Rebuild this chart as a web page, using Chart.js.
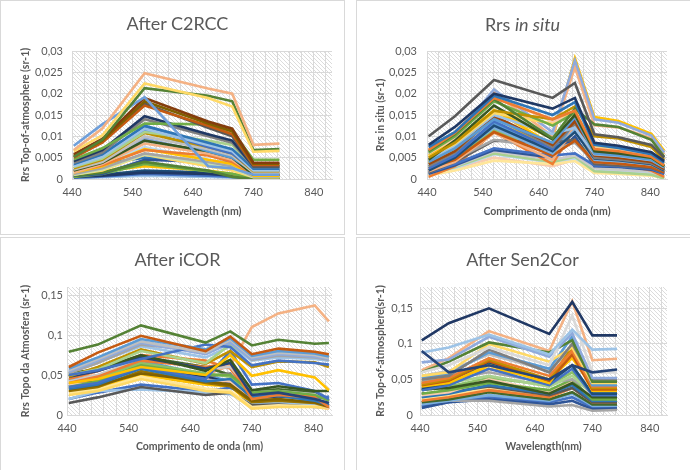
<!DOCTYPE html>
<html>
<head>
<meta charset="utf-8">
<script src="https://cdn.jsdelivr.net/npm/chart.js@4.4.1/dist/chart.umd.min.js"></script>
<style>
  body { margin: 0; background: #fff; width: 690px; height: 470px; overflow: hidden; position: relative; font-family: "Lato", sans-serif; }
  .frame { position: absolute; border: 1px solid #d9d9d9; box-sizing: border-box; }
  .box { position: absolute; }
  .title { position: absolute; text-align: center; color: #595959; font-size: 18px; line-height: 22px; font-family: "Lato", sans-serif; }
</style>
</head>
<body>
<div class="frame" style="left:0;top:0;width:345px;height:235px"></div>
<div class="frame" style="left:356px;top:0;width:340px;height:235px"></div>
<div class="frame" style="left:0;top:237px;width:345px;height:240px"></div>
<div class="frame" style="left:356px;top:237px;width:340px;height:240px"></div>

<div class="box" style="left:0;top:0"><canvas id="c2rcc" width="355" height="235"></canvas></div>
<div class="box" style="left:355px;top:0"><canvas id="insitu" width="335" height="235"></canvas></div>
<div class="box" style="left:0;top:235px"><canvas id="icor" width="355" height="235"></canvas></div>
<div class="box" style="left:355px;top:235px"><canvas id="sen2cor" width="335" height="235"></canvas></div>

<div class="title" style="left:0;top:12px;width:355px">After C2RCC</div>
<div class="title" style="left:355px;top:13px;width:335px">Rrs <i>in situ</i></div>
<div class="title" style="left:0;top:248px;width:355px">After iCOR</div>
<div class="title" style="left:355px;top:248px;width:335px">After Sen2Cor</div>

<script>
// band centres (nm)
const bands7 = [443, 490, 560, 665, 705, 740, 783];
const bands9 = [443, 490, 560, 665, 705, 740, 783, 842, 865];

const xLabels = [440, 540, 640, 740, 840];

// After C2RCC
const c2rccSeries = [
  [0.0068, 0.0118, 0.0248, 0.0212, 0.0200, 0.0080, 0.0083],
  [0.0065, 0.0102, 0.0224, 0.0190, 0.0170, 0.0064, 0.0066],
  [0.0052, 0.0092, 0.0213, 0.0195, 0.0182, 0.0068, 0.0070],
  [0.0078, 0.0128, 0.0192, 0.0030, 0.0025, 0.0010, 0.0010],
  [0.0058, 0.0094, 0.0190, 0.0135, 0.0118, 0.0038, 0.0038],
  [0.0055, 0.0090, 0.0182, 0.0130, 0.0112, 0.0036, 0.0036],
  [0.0050, 0.0085, 0.0172, 0.0125, 0.0105, 0.0033, 0.0033],
  [0.0052, 0.0087, 0.0177, 0.0120, 0.0100, 0.0030, 0.0030],
  [0.0046, 0.0072, 0.0130, 0.0128, 0.0112, 0.0045, 0.0045],
  [0.0042, 0.0068, 0.0147, 0.0105, 0.0090, 0.0030, 0.0030],
  [0.0038, 0.0062, 0.0140, 0.0100, 0.0085, 0.0028, 0.0028],
  [0.0035, 0.0058, 0.0125, 0.0085, 0.0070, 0.0024, 0.0024],
  [0.0030, 0.0052, 0.0118, 0.0080, 0.0065, 0.0020, 0.0020],
  [0.0032, 0.0055, 0.0122, 0.0075, 0.0060, 0.0022, 0.0022],
  [0.0028, 0.0048, 0.0110, 0.0090, 0.0080, 0.0025, 0.0025],
  [0.0025, 0.0045, 0.0108, 0.0075, 0.0060, 0.0018, 0.0018],
  [0.0022, 0.0040, 0.0100, 0.0070, 0.0055, 0.0015, 0.0015],
  [0.0030, 0.0050, 0.0115, 0.0065, 0.0050, 0.0018, 0.0018],
  [0.0020, 0.0038, 0.0090, 0.0065, 0.0050, 0.0010, 0.0010],
  [0.0015, 0.0035, 0.0083, 0.0060, 0.0045, 0.0012, 0.0012],
  [0.0018, 0.0032, 0.0068, 0.0055, 0.0040, 0.0010, 0.0010],
  [0.0015, 0.0030, 0.0070, 0.0045, 0.0035, 0.0008, 0.0008],
  [0.0020, 0.0035, 0.0075, 0.0045, 0.0035, 0.0008, 0.0008],
  [0.0012, 0.0025, 0.0060, 0.0040, 0.0030, 0.0006, 0.0006],
  [0.0010, 0.0022, 0.0058, 0.0035, 0.0025, 0.0005, 0.0005],
  [0.0010, 0.0020, 0.0057, 0.0030, 0.0020, 0.0004, 0.0004],
  [0.0008, 0.0015, 0.0040, 0.0020, 0.0005, 0.0000, 0.0000],
  [0.0008, 0.0012, 0.0045, 0.0040, 0.0040, 0.0008, 0.0008],
  [0.0005, 0.0012, 0.0035, 0.0018, 0.0012, 0.0003, 0.0003],
  [0.0008, 0.0018, 0.0030, 0.0020, 0.0012, 0.0002, 0.0002],
  [0.0005, 0.0008, 0.0015, 0.0012, 0.0008, 0.0001, 0.0001],
  [0.0003, 0.0006, 0.0012, 0.0008, 0.0005, 0.0000, 0.0000],
  [0.0004, 0.0010, 0.0020, 0.0015, 0.0010, 0.0002, 0.0002],
  [0.0002, 0.0004, 0.0008, 0.0005, 0.0003, 0.0000, 0.0000],
  [0.0025, 0.0042, 0.0095, 0.0060, 0.0045, 0.0015, 0.0015],
  [0.0018, 0.0035, 0.0050, 0.0040, 0.0030, 0.0020, 0.0020],
];
const c2rccColors = [
  "#F4B183", "#FFD966", "#548235", "#6F9FDA", "#843C0C", "#7F6000", "#C55A11", "#595959",
  "#70AD47", "#1F3864", "#7F7F7F", "#2E75B6", "#9DC3E6", "#4472C4", "#A9D18E", "#BF9000",
  "#BFBFBF", "#5B9BD5", "#385723", "#F4B183", "#ED7D31", "#FFC000", "#BDD7EE", "#A5A5A5",
  "#C5E0B4", "#FFD966", "#548235", "#2F5597", "#70AD47", "#FFC000", "#203864", "#4472C4",
  "#1F4E79", "#9DC3E6", "#8FAADC", "#2E75B6",
];

// Rrs in situ
const insituSeries = [
  [0.0100, 0.0147, 0.0232, 0.0190, 0.0225, 0.0105, 0.0098, 0.0080, 0.0050],
  [0.0080, 0.0122, 0.0200, 0.0165, 0.0190, 0.0085, 0.0078, 0.0063, 0.0042],
  [0.0075, 0.0110, 0.0195, 0.0150, 0.0180, 0.0080, 0.0073, 0.0058, 0.0038],
  [0.0068, 0.0108, 0.0190, 0.0140, 0.0160, 0.0070, 0.0065, 0.0052, 0.0032],
  [0.0065, 0.0105, 0.0187, 0.0095, 0.0165, 0.0128, 0.0122, 0.0092, 0.0052],
  [0.0050, 0.0085, 0.0160, 0.0140, 0.0170, 0.0100, 0.0095, 0.0075, 0.0045],
  [0.0045, 0.0090, 0.0172, 0.0093, 0.0150, 0.0065, 0.0060, 0.0050, 0.0030],
  [0.0062, 0.0100, 0.0182, 0.0125, 0.0155, 0.0068, 0.0062, 0.0050, 0.0030],
  [0.0060, 0.0095, 0.0195, 0.0135, 0.0150, 0.0072, 0.0066, 0.0054, 0.0034],
  [0.0052, 0.0082, 0.0155, 0.0130, 0.0158, 0.0075, 0.0070, 0.0056, 0.0036],
  [0.0040, 0.0072, 0.0140, 0.0085, 0.0145, 0.0060, 0.0055, 0.0045, 0.0028],
  [0.0045, 0.0078, 0.0150, 0.0105, 0.0120, 0.0058, 0.0054, 0.0044, 0.0027],
  [0.0035, 0.0065, 0.0148, 0.0080, 0.0135, 0.0055, 0.0050, 0.0040, 0.0024],
  [0.0030, 0.0062, 0.0145, 0.0075, 0.0130, 0.0050, 0.0046, 0.0037, 0.0022],
  [0.0025, 0.0055, 0.0135, 0.0070, 0.0140, 0.0062, 0.0057, 0.0046, 0.0026],
  [0.0038, 0.0070, 0.0162, 0.0080, 0.0152, 0.0070, 0.0065, 0.0050, 0.0030],
  [0.0020, 0.0050, 0.0125, 0.0065, 0.0110, 0.0048, 0.0044, 0.0035, 0.0020],
  [0.0030, 0.0055, 0.0120, 0.0060, 0.0115, 0.0045, 0.0042, 0.0034, 0.0020],
  [0.0025, 0.0045, 0.0110, 0.0055, 0.0090, 0.0040, 0.0036, 0.0028, 0.0016],
  [0.0018, 0.0040, 0.0108, 0.0045, 0.0125, 0.0042, 0.0038, 0.0030, 0.0018],
  [0.0022, 0.0046, 0.0092, 0.0070, 0.0085, 0.0040, 0.0036, 0.0030, 0.0018],
  [0.0015, 0.0040, 0.0090, 0.0085, 0.0092, 0.0035, 0.0032, 0.0026, 0.0015],
  [0.0015, 0.0035, 0.0072, 0.0055, 0.0060, 0.0032, 0.0030, 0.0024, 0.0013],
  [0.0012, 0.0032, 0.0068, 0.0050, 0.0100, 0.0030, 0.0028, 0.0022, 0.0012],
  [0.0005, 0.0030, 0.0110, 0.0035, 0.0120, 0.0040, 0.0035, 0.0020, 0.0005],
  [0.0010, 0.0030, 0.0065, 0.0045, 0.0055, 0.0025, 0.0022, 0.0017, 0.0008],
  [0.0010, 0.0028, 0.0060, 0.0040, 0.0052, 0.0018, 0.0015, 0.0010, 0.0001],
  [0.0008, 0.0020, 0.0043, 0.0035, 0.0042, 0.0014, 0.0012, 0.0008, 0.0002],
  [0.0012, 0.0025, 0.0058, 0.0038, 0.0048, 0.0020, 0.0018, 0.0013, 0.0005],
  [0.0008, 0.0025, 0.0050, 0.0030, 0.0045, 0.0018, 0.0016, 0.0012, 0.0003],
  [0.0028, 0.0050, 0.0115, 0.0060, 0.0095, 0.0042, 0.0038, 0.0030, 0.0017],
  [0.0035, 0.0060, 0.0130, 0.0068, 0.0125, 0.0052, 0.0048, 0.0038, 0.0022],
  [0.0042, 0.0075, 0.0145, 0.0070, 0.0120, 0.0055, 0.0050, 0.0040, 0.0024],
  [0.0060, 0.0100, 0.0210, 0.0110, 0.0278, 0.0140, 0.0132, 0.0102, 0.0062],
  [0.0070, 0.0110, 0.0203, 0.0100, 0.0262, 0.0126, 0.0121, 0.0096, 0.0058],
  [0.0055, 0.0090, 0.0160, 0.0095, 0.0283, 0.0145, 0.0136, 0.0106, 0.0066],
];
const insituColors = [
  "#595959", "#1F3864", "#2E75B6", "#ED7D31", "#548235", "#BF9000", "#385723", "#70AD47",
  "#F8CBAD", "#FFD966", "#5B9BD5", "#9DC3E6", "#9E480E", "#7F7F7F", "#4472C4", "#FFC000",
  "#1F4E79", "#7CAFDD", "#C55A11", "#F4B183", "#A5A5A5", "#636363", "#4472C4", "#2F5597",
  "#ED7D31", "#C9C9C9", "#A9D18E", "#FFE699", "#BDD7EE", "#F8CBAD", "#8CC168", "#5B9BD5",
  "#FFC000", "#8FAADC", "#F4B183", "#FFC000",
];

// After iCOR
const icorSeries = [
  [0.0790, 0.0880, 0.1120, 0.0905, 0.1045, 0.0870, 0.0940, 0.0890, 0.0900],
  [0.0600, 0.0780, 0.0990, 0.0800, 0.0980, 0.0760, 0.0830, 0.0790, 0.0760],
  [0.0580, 0.0720, 0.0950, 0.0820, 0.0960, 0.0740, 0.0800, 0.0770, 0.0730],
  [0.0560, 0.0700, 0.0920, 0.0780, 0.0940, 0.0720, 0.0780, 0.0750, 0.0710],
  [0.0500, 0.0560, 0.0700, 0.0880, 0.0850, 0.0620, 0.0680, 0.0650, 0.0630],
  [0.0540, 0.0680, 0.0900, 0.0760, 0.0900, 0.0700, 0.0760, 0.0730, 0.0700],
  [0.0520, 0.0650, 0.0880, 0.0800, 0.0920, 0.0690, 0.0740, 0.0720, 0.0690],
  [0.0500, 0.0570, 0.0800, 0.0650, 0.0880, 0.0710, 0.0800, 0.0760, 0.0720],
  [0.0480, 0.0600, 0.0820, 0.0640, 0.0800, 0.0600, 0.0670, 0.0660, 0.0600],
  [0.0550, 0.0660, 0.0860, 0.0720, 0.0860, 0.0680, 0.0720, 0.0700, 0.0680],
  [0.0400, 0.0450, 0.0600, 0.0500, 0.0750, 0.0490, 0.0560, 0.0470, 0.0310],
  [0.0520, 0.0570, 0.0750, 0.0550, 0.0690, 0.0310, 0.0360, 0.0300, 0.0300],
  [0.0480, 0.0550, 0.0720, 0.0580, 0.0650, 0.0250, 0.0280, 0.0200, 0.0150],
  [0.0350, 0.0400, 0.0600, 0.0450, 0.0800, 0.0380, 0.0400, 0.0300, 0.0200],
  [0.0400, 0.0480, 0.0680, 0.0600, 0.0650, 0.0200, 0.0250, 0.0220, 0.0100],
  [0.0350, 0.0420, 0.0620, 0.0500, 0.0500, 0.0280, 0.0300, 0.0250, 0.0180],
  [0.0330, 0.0380, 0.0580, 0.0420, 0.0450, 0.0220, 0.0240, 0.0180, 0.0120],
  [0.0320, 0.0370, 0.0520, 0.0420, 0.0380, 0.0180, 0.0200, 0.0160, 0.0110],
  [0.0300, 0.0350, 0.0550, 0.0400, 0.0360, 0.0160, 0.0180, 0.0150, 0.0100],
  [0.0380, 0.0400, 0.0580, 0.0440, 0.0420, 0.0180, 0.0200, 0.0180, 0.0080],
  [0.0250, 0.0300, 0.0450, 0.0300, 0.0280, 0.0080, 0.0100, 0.0100, 0.0080],
  [0.0280, 0.0320, 0.0480, 0.0330, 0.0300, 0.0100, 0.0120, 0.0110, 0.0090],
  [0.0150, 0.0220, 0.0350, 0.0250, 0.0280, 0.0120, 0.0130, 0.0100, 0.0100],
  [0.0200, 0.0300, 0.0320, 0.0280, 0.0260, 0.0140, 0.0150, 0.0120, 0.0140],
  [0.0360, 0.0420, 0.0600, 0.0480, 0.0400, 0.0200, 0.0220, 0.0190, 0.0140],
  [0.0200, 0.0280, 0.0380, 0.0300, 0.0340, 0.0230, 0.0250, 0.0200, 0.0230],
  [0.0300, 0.0330, 0.0500, 0.0380, 0.0360, 0.0130, 0.0140, 0.0120, 0.0100],
  [0.0420, 0.0500, 0.0700, 0.0580, 0.0600, 0.0280, 0.0300, 0.0260, 0.0160],
  [0.0420, 0.0460, 0.0650, 0.0520, 0.0480, 0.0220, 0.0240, 0.0200, 0.0140],
  [0.0450, 0.0550, 0.0750, 0.0680, 0.0580, 0.0230, 0.0260, 0.0240, 0.0080],
  [0.0380, 0.0450, 0.0620, 0.0480, 0.0520, 0.0160, 0.0180, 0.0150, 0.0120],
  [0.0430, 0.0480, 0.0680, 0.0500, 0.0420, 0.0150, 0.0170, 0.0150, 0.0130],
  [0.0500, 0.0560, 0.0730, 0.0600, 0.0500, 0.0300, 0.0320, 0.0280, 0.0180],
  [0.0450, 0.0500, 0.0650, 0.0500, 0.0620, 0.1100, 0.1270, 0.1370, 0.1170],
];
const icorColors = [
  "#548235", "#C55A11", "#5B9BD5", "#BFBFBF", "#4472C4", "#8FAADC", "#A5A5A5", "#A9D18E",
  "#BF9000", "#9DC3E6", "#FFC000", "#385723", "#264478", "#4472C4", "#ED7D31", "#70AD47",
  "#2E75B6", "#7F6000", "#997300", "#F8CBAD", "#FFD966", "#FFE699", "#595959", "#9DC3E6",
  "#1F3864", "#4472C4", "#FFC000", "#C9C9C9", "#8CC168", "#ED7D31", "#7F7F7F", "#5B9BD5",
  "#43682B", "#F4B183",
];

// After Sen2Cor
const sen2corSeries = [
  [0.1050, 0.1290, 0.1500, 0.1140, 0.1590, 0.1120, 0.1120],
  [0.0900, 0.0600, 0.0700, 0.0500, 0.0700, 0.0600, 0.0640],
  [0.0880, 0.0950, 0.1130, 0.0850, 0.1200, 0.0920, 0.0930],
  [0.0600, 0.0700, 0.0950, 0.0700, 0.1400, 0.0600, 0.0600],
  [0.0740, 0.0780, 0.1100, 0.0820, 0.1150, 0.0520, 0.0520],
  [0.0600, 0.0750, 0.1020, 0.0880, 0.1050, 0.0470, 0.0470],
  [0.0500, 0.0550, 0.0920, 0.0600, 0.1000, 0.0500, 0.0500],
  [0.0550, 0.0600, 0.1000, 0.0750, 0.0950, 0.0450, 0.0450],
  [0.0520, 0.0580, 0.0880, 0.0650, 0.1100, 0.0420, 0.0420],
  [0.0450, 0.0520, 0.0800, 0.0550, 0.0900, 0.0400, 0.0400],
  [0.0430, 0.0500, 0.0780, 0.0500, 0.0950, 0.0380, 0.0380],
  [0.0420, 0.0480, 0.0760, 0.0480, 0.0850, 0.0360, 0.0360],
  [0.0400, 0.0450, 0.0700, 0.0450, 0.0880, 0.0340, 0.0340],
  [0.0380, 0.0450, 0.0720, 0.0460, 0.0700, 0.0300, 0.0300],
  [0.0350, 0.0420, 0.0650, 0.0420, 0.0650, 0.0280, 0.0280],
  [0.0400, 0.0450, 0.0550, 0.0400, 0.0550, 0.0300, 0.0300],
  [0.0480, 0.0500, 0.0600, 0.0450, 0.0500, 0.0330, 0.0330],
  [0.0360, 0.0380, 0.0480, 0.0300, 0.0450, 0.0250, 0.0250],
  [0.0300, 0.0350, 0.0450, 0.0350, 0.0500, 0.0220, 0.0220],
  [0.0280, 0.0320, 0.0500, 0.0320, 0.0480, 0.0240, 0.0240],
  [0.0250, 0.0300, 0.0420, 0.0300, 0.0420, 0.0200, 0.0200],
  [0.0300, 0.0320, 0.0400, 0.0280, 0.0380, 0.0180, 0.0180],
  [0.0200, 0.0250, 0.0350, 0.0250, 0.0380, 0.0180, 0.0180],
  [0.0220, 0.0270, 0.0380, 0.0270, 0.0400, 0.0200, 0.0200],
  [0.0180, 0.0220, 0.0320, 0.0220, 0.0320, 0.0150, 0.0150],
  [0.0150, 0.0200, 0.0280, 0.0200, 0.0300, 0.0130, 0.0130],
  [0.0180, 0.0200, 0.0200, 0.0120, 0.0140, 0.0060, 0.0070],
  [0.0100, 0.0180, 0.0220, 0.0150, 0.0200, 0.0080, 0.0090],
  [0.0130, 0.0180, 0.0250, 0.0180, 0.0250, 0.0110, 0.0110],
  [0.0350, 0.0400, 0.0520, 0.0420, 0.0600, 0.0320, 0.0320],
  [0.0480, 0.0520, 0.0650, 0.0500, 0.0800, 0.0400, 0.0400],
  [0.0550, 0.0620, 0.0850, 0.0620, 0.0950, 0.0480, 0.0480],
  [0.0450, 0.0480, 0.0740, 0.0470, 0.0920, 0.0420, 0.0420],
  [0.0630, 0.0800, 0.1180, 0.0900, 0.1600, 0.0770, 0.0790],
];
const sen2corColors = [
  "#203864", "#264478", "#9DC3E6", "#D9D9D9", "#8FAADC", "#548235", "#7F7F7F", "#FFD966",
  "#5B9BD5", "#ED7D31", "#BF9000", "#C55A11", "#FFC000", "#1F4E79", "#4472C4", "#A9D18E",
  "#A5A5A5", "#385723", "#70AD47", "#F8CBAD", "#2E75B6", "#595959", "#ED7D31", "#FFE699",
  "#43682B", "#7CAFDD", "#A5A5A5", "#2F5597", "#4472C4", "#8CC168", "#FFC000", "#BFBFBF",
  "#997300", "#F4B183",
];

const textColor = "#595959";
const gridColor = "#d9d9d9";

const makeHatch = () => {
  const c = document.createElement("canvas");
  c.width = 4;
  c.height = 4;
  const g = c.getContext("2d");
  g.strokeStyle = "#dcdcdc";
  g.lineWidth = 1;
  g.beginPath();
  g.moveTo(-1, -1);
  g.lineTo(5, 5);
  g.moveTo(-1, 3);
  g.lineTo(1, 5);
  g.moveTo(3, -1);
  g.lineTo(5, 1);
  g.stroke();
  return g.createPattern(c, "repeat");
};
const hatch = makeHatch();

const hatchPlugin = {
  id: "hatch",
  beforeDraw: (chart) => {
    const { ctx, chartArea: a } = chart;
    ctx.save();
    ctx.fillStyle = hatch;
    ctx.fillRect(a.left, a.top, a.right - a.left, a.bottom - a.top);
    ctx.restore();
  },
};

const fmt = (v) => (v === 0 ? "0" : String(+v.toFixed(3)).replace(".", ","));

// tick values from start to end by step
const steps = (from, to, step) => {
  const out = [];
  for (let i = 0; from + i * step <= to + 1e-9; i++) {
    out.push({ value: +(from + i * step).toFixed(4) });
  }
  return out;
};

const drawPanel = (id, bands, series, colors, p) => {
  const ctx = document.getElementById(id).getContext("2d");
  const datasets = series.map((s, i) => ({
    data: s.map((v, j) => ({ x: bands[j], y: v })),
    borderColor: colors[i % colors.length],
    borderWidth: 2.6,
    pointRadius: 0,
    tension: 0,
  }));
  return new Chart(ctx, {
    type: "line",
    data: { datasets: datasets },
    plugins: [hatchPlugin],
    options: {
      responsive: false,
      animation: false,
      layout: { padding: { top: p.top, right: p.right, left: 0, bottom: 0 } },
      plugins: { legend: { display: false }, tooltip: { enabled: false } },
      scales: {
        x: {
          type: "linear",
          min: 440,
          max: 870,
          afterBuildTicks: (axis) => {
            axis.ticks = steps(440, 860, 20);
          },
          afterFit: (axis) => {
            axis.height = p.xh;
          },
          ticks: {
            autoSkip: false,
            maxRotation: 0,
            padding: 7,
            color: textColor,
            font: { family: "Lato", size: 11 },
            callback: (v) => (xLabels.includes(v) ? String(v) : ""),
          },
          grid: { color: gridColor, drawTicks: false },
          border: { color: gridColor },
          title: {
            display: true,
            text: p.xTitle,
            color: textColor,
            font: { family: "Lato", size: 10.5, weight: "bold" },
            padding: { top: 0, bottom: 17 },
          },
        },
        y: {
          min: 0,
          max: p.yMax,
          afterBuildTicks: (axis) => {
            axis.ticks = steps(0, p.yTop, p.yStep);
          },
          afterFit: (axis) => {
            axis.width = p.left;
          },
          ticks: {
            padding: p.tickPad,
            color: textColor,
            font: { family: "Lato", size: 11 },
            callback: (v) => fmt(v),
          },
          grid: { color: gridColor, drawTicks: false },
          border: { display: false },
          title: {
            display: true,
            text: p.yTitle,
            color: textColor,
            font: { family: "Lato", size: 10.5, weight: "bold" },
            padding: { top: 19, bottom: 0 },
          },
        },
      },
    },
  });
};

drawPanel("c2rcc", bands7, c2rccSeries, c2rccColors, {
  top: 51, right: 23, left: 72, xh: 56, yMax: 0.03, yTop: 0.03, yStep: 0.005, tickPad: 9,
  xTitle: "Wavelength (nm)", yTitle: "Rrs Top-of-atmosphere (sr-1)",
});
drawPanel("insitu", bands9, insituSeries, insituColors, {
  top: 51, right: 23, left: 72, xh: 56, yMax: 0.03, yTop: 0.03, yStep: 0.005, tickPad: 10,
  xTitle: "Comprimento de onda (nm)", yTitle: "Rrs in situ (sr-1)",
});
drawPanel("icor", bands9, icorSeries, icorColors, {
  top: 52, right: 23, left: 67, xh: 55, yMax: 0.16, yTop: 0.15, yStep: 0.05, tickPad: 4,
  xTitle: "Comprimento de onda (nm)", yTitle: "Rrs Topo da Atmosfera (sr-1)",
});
drawPanel("sen2cor", bands7, sen2corSeries, sen2corColors, {
  top: 52, right: 23, left: 65, xh: 55, yMax: 0.18, yTop: 0.15, yStep: 0.05, tickPad: 7,
  xTitle: "Wavelength(nm)", yTitle: "Rrs Top-of-atmosphere(sr-1)",
});
</script>
</body>
</html>
